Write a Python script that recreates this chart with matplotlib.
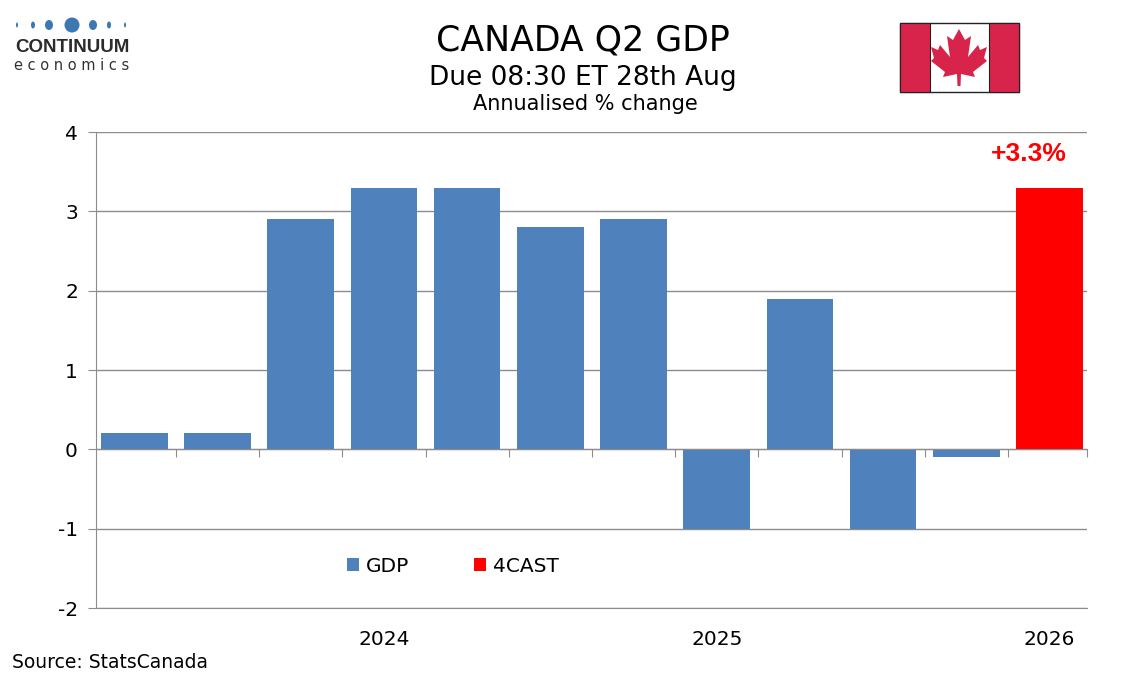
import matplotlib.pyplot as plt
from matplotlib.patches import Ellipse
import numpy as np

# data
gdp = [0.2, 0.2, 2.9, 3.3, 3.3, 2.8, 2.9, -1.0, 1.9, -1.0, -0.1]
forecast = [3.3]
year_pos = [3, 7, 11]
year_labels = ["2024", "2025", "2026"]
y_ticks = [-2, -1, 0, 1, 2, 3, 4]

blue = "#4F81BD"
red = "#FF0000"
grey = "#8C8C8C"

fig = plt.figure(figsize=(11.34, 6.8), dpi=100)
ax = fig.add_axes([96 / 1134, 1 - 608 / 680, 991 / 1134, 476 / 680])

x_hist = np.arange(len(gdp))
x_fc = np.arange(len(gdp), len(gdp) + len(forecast))
ax.bar(x_hist, gdp, width=0.8, color=blue, label="GDP", zorder=3)
ax.bar(x_fc, forecast, width=0.8, color=red, label="4CAST", zorder=3)

n = len(gdp) + len(forecast)
ax.set_xlim(-0.46, n - 0.55)
ax.set_ylim(-2, 4)
ax.set_yticks(y_ticks)
ax.set_yticklabels([str(t) for t in y_ticks], fontsize=14.5)
ax.yaxis.grid(True, color=grey, lw=1, zorder=0)
ax.tick_params(axis="y", length=6, color=grey, pad=7)

# bottom spine sits on zero, ticks between categories
for s in ["top", "right"]:
    ax.spines[s].set_visible(False)
ax.spines["left"].set_color(grey)
ax.spines["bottom"].set_position(("data", 0))
ax.spines["bottom"].set_color(grey)
ax.spines["bottom"].set_zorder(4)
ax.set_xticks(list(np.arange(0.5, n - 1, 1)) + [n - 0.55])
ax.set_xticklabels([])
ax.tick_params(axis="x", length=6, color=grey, direction="out")

sec = ax.secondary_xaxis(0)
sec.set_xticks(year_pos)
sec.set_xticklabels(year_labels, fontsize=14.5)
sec.tick_params(length=0, pad=16)
sec.spines["bottom"].set_color(grey)

ax.annotate("+3.3%", xy=(x_fc[0], forecast[0]), xytext=(-15, 24),
            textcoords="offset points", ha="center", va="center",
            color=red, fontsize=19, fontweight="bold", family="Liberation Sans")

leg = ax.legend(loc="center", bbox_to_anchor=(0.36, 0.088), ncol=2, frameon=False,
                fontsize=14.5, handlelength=0.6, handleheight=0.6,
                handletextpad=0.35, columnspacing=3.2)

# titles
fig.text(0.514, 0.94, "CANADA Q2 GDP", ha="center", va="center", fontsize=25)
fig.text(0.514, 0.885, "Due 08:30 ET 28th Aug", ha="center", va="center", fontsize=19)
fig.text(0.516, 0.847, "Annualised % change", ha="center", va="center", fontsize=15)
fig.text(12 / 1134, 1 - 663 / 680, "Source: StatsCanada", ha="left", va="center", fontsize=13.5)

# logo and flag drawn in pixel space
deco = fig.add_axes([0, 0, 1, 1], zorder=-1)
deco.set_xlim(0, 1134)
deco.set_ylim(680, 0)
deco.axis("off")

dots = [(17, 2, 5), (33, 4, 7), (49, 8, 10), (72, 15, 15), (93, 8, 10), (109, 4, 7), (125, 2, 5)]
for dx, w, h in dots:
    deco.add_patch(Ellipse((dx, 25), w, h, facecolor="#3E78B2", edgecolor="none"))
deco.text(72, 48, "CONTINUUM", ha="center", va="center", fontsize=13.5,
          fontweight="bold", family="Liberation Sans", color="#2B2B2B")
deco.text(72, 65, "e c o n o m i c s", ha="center", va="center", fontsize=10.5, color="#333333")

flag_red = "#D8234A"
deco.add_patch(plt.Rectangle((900, 23), 119, 69, facecolor="white", edgecolor="#222222", lw=1))
deco.add_patch(plt.Rectangle((900, 23), 30, 69, facecolor=flag_red, edgecolor="#222222", lw=0.8))
deco.add_patch(plt.Rectangle((989, 23), 30, 69, facecolor=flag_red, edgecolor="#222222", lw=0.8))
half = [(0, 29), (6, 40), (12, 36), (9, 57), (19, 45), (21, 50), (28, 47), (25, 58),
        (28, 61), (14, 72), (16, 77), (2, 74), (1.5, 86)]
leaf = [(959 + dx, y) for dx, y in half] + [(959 - dx, y) for dx, y in reversed(half[1:])]
deco.add_patch(plt.Polygon(leaf, closed=True, facecolor=flag_red, edgecolor="none"))

fig.savefig("out.png", dpi=100)
